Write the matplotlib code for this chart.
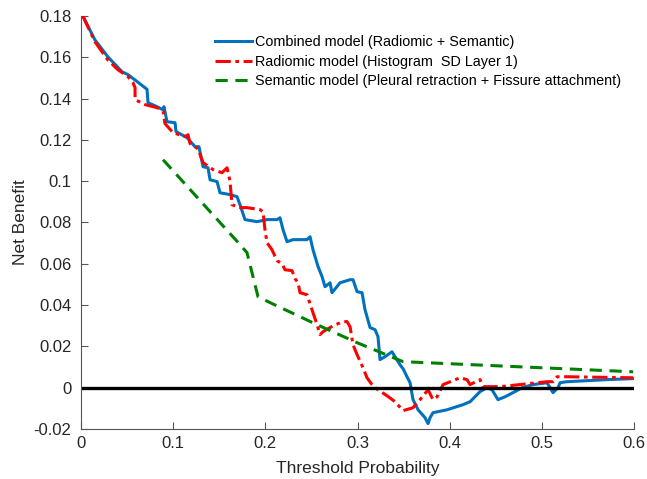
import matplotlib
matplotlib.use("Agg")
import matplotlib.pyplot as plt

plt.rcParams["font.family"] = ["Liberation Sans", "DejaVu Sans"]

# Combined model (Radiomic + Semantic)
comb_x = [0.002, 0.015, 0.029, 0.0445, 0.051, 0.061, 0.0716, 0.0727, 0.080, 0.089, 0.090,
          0.0933, 0.102, 0.1031, 0.115, 0.1237, 0.128, 0.1324, 0.1378, 0.140, 0.1476,
          0.1508, 0.1617, 0.1693, 0.1725, 0.1779, 0.191, 0.2018, 0.2127, 0.2159, 0.2192,
          0.2235, 0.230, 0.2452, 0.2485, 0.2517, 0.2572, 0.2615, 0.2647, 0.2702, 0.2723,
          0.281, 0.2919, 0.2951, 0.2995, 0.3049, 0.3081, 0.3136, 0.319, 0.3222, 0.3244,
          0.3298, 0.3374, 0.3461, 0.3494, 0.3537, 0.357, 0.3602, 0.3657, 0.3732, 0.3765,
          0.3787, 0.3819, 0.3971, 0.4145, 0.4221, 0.4329, 0.4405, 0.4459, 0.4524, 0.460,
          0.4687, 0.4785, 0.4904, 0.5056, 0.5121, 0.5175, 0.5197, 0.5273, 0.549, 0.5707, 0.599]
comb_y = [0.180, 0.1685, 0.1603, 0.153, 0.1516, 0.1482, 0.1445, 0.138, 0.1366, 0.1346, 0.1361,
          0.1288, 0.1283, 0.124, 0.1211, 0.1167, 0.1167, 0.107, 0.1065, 0.1007, 0.0998,
          0.0944, 0.0935, 0.0925, 0.0886, 0.0814, 0.0804, 0.0814, 0.0814, 0.0823, 0.0765,
          0.0707, 0.0717, 0.0717, 0.0731, 0.0668, 0.0586, 0.0538, 0.0489, 0.0508, 0.046,
          0.0508, 0.0523, 0.0523, 0.0465, 0.046, 0.0378, 0.0291, 0.0281, 0.0247, 0.0136,
          0.015, 0.0174, 0.0111, 0.0092, 0.0053, 0.0024, -0.0058, -0.0107, -0.0145, -0.0174,
          -0.0145, -0.0121, -0.0107, -0.0082, -0.0068, -0.0019, 0.0, -0.001, -0.0058, -0.0044,
          -0.0024, 0.0, 0.0015, 0.0024, -0.0024, 0.0, 0.0024, 0.0029, 0.0034, 0.0039, 0.0044]

# Radiomic model (Histogram SD Layer 1)
rad_x = [0.002, 0.015, 0.029, 0.040, 0.051, 0.0564, 0.0586, 0.0587, 0.0694, 0.0825, 0.089,
         0.0911, 0.0998, 0.1128, 0.1161, 0.1183, 0.1269, 0.1324, 0.1432, 0.153, 0.1584,
         0.1617, 0.1638, 0.1725, 0.1801, 0.1942, 0.1975, 0.1996, 0.2018, 0.2072, 0.2127,
         0.2181, 0.2213, 0.2289, 0.2322, 0.2354, 0.2376, 0.2452, 0.2517, 0.2561, 0.2593,
         0.2626, 0.2734, 0.2843, 0.2886, 0.2919, 0.2951, 0.2995, 0.3049, 0.3103, 0.3157,
         0.3222, 0.332, 0.3407, 0.3494, 0.3602, 0.3678, 0.3765, 0.3819, 0.3863, 0.3928,
         0.4112, 0.4188, 0.4221, 0.4329, 0.4362, 0.4546, 0.5056, 0.5121, 0.5165, 0.5273, 0.599]
rad_y = [0.180, 0.1676, 0.1588, 0.154, 0.1506, 0.1477, 0.1453, 0.1395, 0.1371, 0.1356, 0.1341,
         0.1279, 0.1235, 0.1216, 0.1225, 0.1182, 0.1157, 0.109, 0.1056, 0.1041, 0.1065,
         0.0998, 0.0886, 0.0872, 0.0872, 0.0862, 0.0852, 0.0765, 0.0702, 0.0668, 0.0615,
         0.060, 0.0571, 0.0567, 0.0528, 0.0509, 0.046, 0.045, 0.0363, 0.0305, 0.0257,
         0.0271, 0.030, 0.032, 0.032, 0.0295, 0.0208, 0.016, 0.0107, 0.0048, 0.0015,
         -0.001, -0.0039, -0.0068, -0.0111, -0.0097, -0.0058, -0.001, -0.0058, -0.0044, 0.0015,
         0.0048, 0.0039, 0.0015, 0.0039, 0.0005, 0.0005, 0.0029, 0.0029, 0.0053, 0.0053, 0.0048]

# Semantic model (Pleural retraction + Fissure attachment)
sem_x = [0.089, 0.1725, 0.1801, 0.192, 0.2051, 0.2561, 0.2995, 0.3494, 0.599]
sem_y = [0.1104, 0.0693, 0.0654, 0.0441, 0.0412, 0.0305, 0.0218, 0.0126, 0.0077]

labels = ["Combined model (Radiomic + Semantic)",
          "Radiomic model (Histogram  SD Layer 1)",
          "Semantic model (Pleural retraction + Fissure attachment)"]

fig = plt.figure(figsize=(6.47, 4.79), dpi=100)
ax = fig.add_axes([0.1252, 0.1044, 0.8548, 0.8622])

ax.plot(comb_x, comb_y, color="#0072BD", lw=2.2, label=labels[0])
ax.plot(rad_x, rad_y, color="red", lw=2.2, linestyle=(0, (5, 1.5, 1.2, 1.5)), label=labels[1])
ax.plot(sem_x, sem_y, color="#008000", lw=2.2, linestyle=(0, (4, 2.5)), label=labels[2])
ax.axhline(0, color="black", lw=2.4)

ax.set_xlim(0, 0.6)
ax.set_ylim(-0.02, 0.18)
ax.set_xticks([0, 0.1, 0.2, 0.3, 0.4, 0.5, 0.6])
ax.set_xticklabels(["0", "0.1", "0.2", "0.3", "0.4", "0.5", "0.6"])
ax.set_yticks([-0.02, 0, 0.02, 0.04, 0.06, 0.08, 0.1, 0.12, 0.14, 0.16, 0.18])
ax.set_yticklabels(["-0.02", "0", "0.02", "0.04", "0.06", "0.08", "0.1", "0.12", "0.14", "0.16", "0.18"])

for s in ["top", "right"]:
    ax.spines[s].set_visible(False)
for s in ["left", "bottom"]:
    ax.spines[s].set_color("#555555")
    ax.spines[s].set_linewidth(0.8)
ax.tick_params(direction="in", length=5, width=0.8, colors="#555555", labelcolor="#262626",
               labelsize=12)
ax.tick_params(axis="y", pad=7)
ax.tick_params(axis="x", pad=5)

ax.set_xlabel("Threshold Probability", fontsize=12.5, color="#262626", labelpad=7)
ax.set_ylabel("Net Benefit", fontsize=12.5, color="#262626", labelpad=4)

ax.legend(loc="upper left", bbox_to_anchor=(0.242, 0.954), frameon=False, fontsize=10.4,
          handlelength=2.55, handletextpad=0.2, labelspacing=0.39, borderpad=0, borderaxespad=0)

plt.savefig("out.png", dpi=100)
